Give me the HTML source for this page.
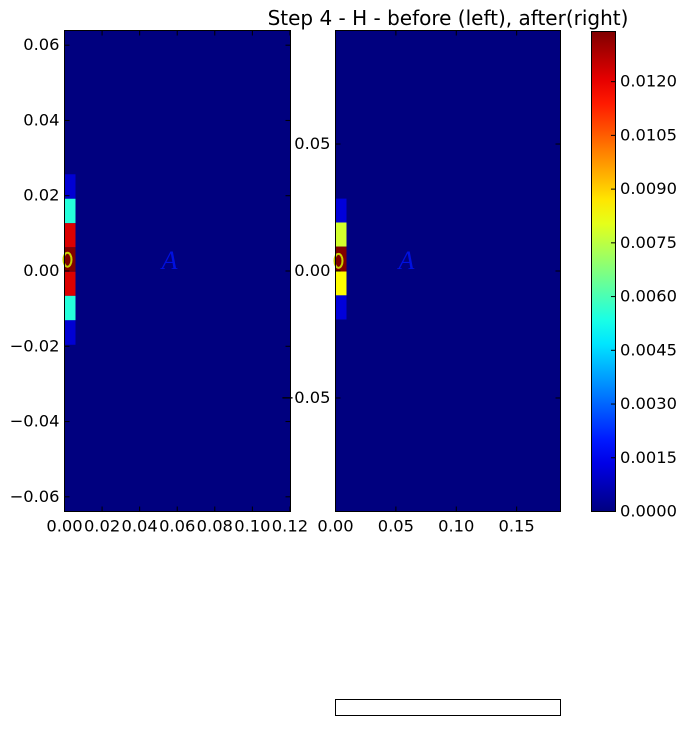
<!DOCTYPE html>
<html><head><meta charset="utf-8"><style>
body{margin:0;background:#fff;font-family:"DejaVu Sans",sans-serif}
svg text{font-family:"DejaVu Sans",sans-serif;font-size:16.3px;fill:#000}
</style></head><body>
<svg id="c" width="686" height="725" xmlns="http://www.w3.org/2000/svg"></svg>
<script>
// data
const leftCellsY = [0.0257, 0.0192, 0.0127, 0.0063, -0.0002, -0.0066, -0.0131, -0.0196];
const leftCellsV = [0.0011, 0.0055, 0.0122, 0.0135, 0.0122, 0.0055, 0.0011, 0.0002];
const rightCellsY = [0.0285, 0.0191, 0.0096, -0.0002, -0.0096, -0.0191];
const rightCellsV = [0.0012, 0.0078, 0.0135, 0.0084, 0.0012];
const leftXTicks = [0, 0.02, 0.04, 0.06, 0.08, 0.10, 0.12];
const leftXLabels = ["0.00","0.02","0.04","0.06","0.08","0.10","0.12"];
const leftYTicks = [0.06,0.04,0.02,0,-0.02,-0.04,-0.06];
const leftYLabels = ["0.06","0.04","0.02","0.00","\u22120.02","\u22120.04","\u22120.06"];
const rightXTicks = [0,0.05,0.10,0.15];
const rightXLabels = ["0.00","0.05","0.10","0.15"];
const rightYTicks = [0.05,0,-0.05];
const rightYLabels = ["0.05","0.00","\u22120.05"];
const cbTicks = [0,0.0015,0.003,0.0045,0.006,0.0075,0.009,0.0105,0.012];
const cbLabels = ["0.0000","0.0015","0.0030","0.0045","0.0060","0.0075","0.0090","0.0105","0.0120"];
const vmax = 0.0134;

const NS="http://www.w3.org/2000/svg", svg=document.getElementById('c');
function mk(t,a,p){const e=document.createElementNS(NS,t);for(const k in a)e.setAttribute(k,a[k]);(p||svg).appendChild(e);return e;}
function jet(v){const t=Math.max(0,Math.min(1,v/vmax));
 const f=x=>Math.max(0,Math.min(1,x));
 const r=f(1.5-Math.abs(4*t-3)),g=f(1.5-Math.abs(4*t-2)),b=f(1.5-Math.abs(4*t-1));
 return `rgb(${Math.round(r*255)},${Math.round(g*255)},${Math.round(b*255)})`;}

function panel(name,px0,px1,py0,py1,xmin,xmax,ymin,ymax,cy,cv,xt,xl,yt,yl,aFrac,cY){
 const X=v=>px0+(v-xmin)/(xmax-xmin)*(px1-px0), Y=v=>py1-(v-ymin)/(ymax-ymin)*(py1-py0);
 const g=mk('g',{});
 const bg=mk('rect',{x:px0,y:py0,width:px1-px0,height:py1-py0,fill:'#00007f'},g);
 
 for(let i=0;i<cv.length;i++){const y0=Y(cy[i]),y1=Y(cy[i+1]);
  const r=mk('rect',{x:px0,y:y0,width:11,height:y1-y0,fill:jet(cv[i])},g);
  }
 const c=mk('ellipse',{cx:px0+3,cy:Y(cY),rx:4,ry:7,fill:'none',stroke:'#c8d000','stroke-width':2},g);
 
 const a=mk('text',{x:px0+(px1-px0)*aFrac,y:Y(0)-2},g);
 a.style.fontFamily='"Liberation Serif",serif';a.style.fontStyle='italic';a.style.fontSize='26px';a.style.fill='#0010e0';
 a.textContent='A';
 mk('rect',{x:px0,y:py0,width:px1-px0,height:py1-py0,fill:'none',stroke:'#000','stroke-width':1},g);
 xt.forEach((v,i)=>{const x=X(v);mk('line',{x1:x,x2:x,y1:py1,y2:py1-5,stroke:'#000'},g);mk('line',{x1:x,x2:x,y1:py0,y2:py0+5,stroke:'#000'},g);
  const t=mk('text',{x:x,y:py1+20,'text-anchor':'middle'},g);t.textContent=xl[i];});
 yt.forEach((v,i)=>{const y=Y(v);mk('line',{x1:px0,x2:px0+5,y1:y,y2:y,stroke:'#000'},g);mk('line',{x1:px1,x2:px1-5,y1:y,y2:y,stroke:'#000'},g);
  const t=mk('text',{x:px0-5,y:y+5,'text-anchor':'end'},g);t.textContent=yl[i];});
}
panel('left-panel',64.5,290.5,30.5,511.5,0,0.1203,-0.0639,0.0639,leftCellsY,leftCellsV,leftXTicks,leftXLabels,leftYTicks,leftYLabels,0.43,0.003);
panel('right-panel',335.5,560.5,30.5,511.5,0,0.1863,-0.0947,0.0947,rightCellsY,rightCellsV,rightXTicks,rightXLabels,rightYTicks,rightYLabels,0.28,0.004);

// colorbar
const defs=mk('defs',{});const lg=mk('linearGradient',{id:'jg',x1:0,y1:1,x2:0,y2:0},defs);
for(let i=0;i<=20;i++){mk('stop',{offset:i/20,'stop-color':jet(vmax*i/20)},lg);}
const cb=mk('rect',{x:591.5,y:31.5,width:24,height:480,fill:'url(#jg)',stroke:'#000'});

const CY=v=>511.5-v/vmax*480;
cbTicks.forEach((v,i)=>{const y=CY(v);mk('line',{x1:611,x2:615.5,y1:y,y2:y,stroke:'#000'});
 const t=mk('text',{x:620,y:y+5});t.textContent=cbLabels[i];});

const title=mk('text',{x:448,y:25,'text-anchor':'middle'});title.style.fontSize='20px';
title.textContent='Step 4 - H - before (left), after(right)';
const box=mk('rect',{x:335.5,y:699.5,width:225,height:16,fill:'none',stroke:'#000'});

</script>
</body></html>
